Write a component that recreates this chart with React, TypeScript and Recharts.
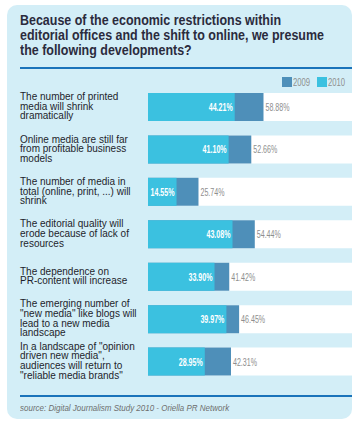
import React from 'react';
import { BarChart, Bar, XAxis, YAxis, LabelList } from 'recharts';

// Survey answers, one entry per row (label lines as printed)
const questions = [
  ['The number of printed', 'media will shrink', 'dramatically'],
  ['Online media are still far', 'from profitable business', 'models'],
  ['The number of media in', 'total (online, print, ...) will', 'shrink'],
  ['The editorial quality will', 'erode because of lack of', 'resources'],
  ['The dependence on', 'PR-content will increase'],
  ['The emerging number of', '"new media" like blogs will', 'lead to a new media', 'landscape'],
  ['In a landscape of "opinion', 'driven new media",', 'audiences will return to', '"reliable media brands"'],
];
const values2009 = [58.88, 52.66, 25.74, 54.44, 41.42, 46.45, 42.31];
const values2010 = [44.21, 41.1, 14.55, 43.08, 33.9, 39.97, 28.95];
const seriesNames = ['2009', '2010'];

const titleLines = [
  'Because of the economic restrictions within',
  'editorial offices and the shift to online, we presume',
  'the following developments?',
];
const sourceText = 'source: Digital Journalism Study 2010 - Oriella PR Network';

const COLOR_2009 = '#4e8fb9';
const COLOR_2010 = '#3bc1e0';
const PANEL = '#d3eef7';
const RULE = '#1a73ba';
const FONT = "'Liberation Sans', Arial, sans-serif";

const data = questions.map((q, i) => ({
  name: q.join(' '),
  v2009: values2009[i],
  v2010: values2010[i],
}));

const fmt = (v: number) => `${v.toFixed(2)}%`;

const CategoryTick = (props: any) => {
  const { y, index } = props;
  const lines = questions[index] || [];
  const lh = 9.6;
  const start = y - ((lines.length - 1) * lh) / 2 - 1;
  return (
    <text x={20} y={start} fontSize={10} fill="#1e1e2c" fontFamily={FONT}>
      {lines.map((l: string, i: number) => (
        <tspan key={i} x={20} y={start + i * lh} dy="0.35em">{l}</tspan>
      ))}
    </text>
  );
};

const InsideLabel = (props: any) => {
  const { x, y, width, height, value } = props;
  const s = fmt(value);
  return (
    <text x={x + width - 2} y={y + height / 2} dy="0.36em" textAnchor="end" fill="#fff" fontSize={11}
      fontWeight="bold" fontFamily={FONT} textLength={s.length * 4} lengthAdjust="spacingAndGlyphs">
      {s}
    </text>
  );
};

const OutsideLabel = (props: any) => {
  const { x, y, width, height, value } = props;
  const s = fmt(value);
  return (
    <text x={x + width + 2} y={y + height / 2} dy="0.36em" textAnchor="start" fill="#8e8e8e" fontSize={11}
      fontFamily={FONT} textLength={s.length * 4} lengthAdjust="spacingAndGlyphs">
      {s}
    </text>
  );
};

export default function App() {
  return (
    <div style={{ position: 'absolute', left: 0, top: 0, width: 362, height: 428, background: '#fff', overflow: 'hidden' }}>
      <div style={{ position: 'absolute', left: 7, top: 5, width: 345, height: 414, background: PANEL, borderRadius: 10 }} />

      {/* title */}
      <div style={{ position: 'absolute', left: 20, top: 13, fontFamily: FONT,
        fontWeight: 'bold', fontSize: 14, lineHeight: '15px', color: '#2b2b3d',
        transform: 'scaleX(0.89)', transformOrigin: 'left top', whiteSpace: 'nowrap' }}>
        {titleLines.map((t) => <div key={t}>{t}</div>)}
      </div>
      <div style={{ position: 'absolute', left: 20, top: 67, width: 332, height: 2, background: RULE }} />

      {/* legend */}
      <div style={{ position: 'absolute', left: 282, top: 77, display: 'flex', alignItems: 'center', fontFamily: FONT }}>
        {seriesNames.map((label, i) => (
          <div key={label} style={{ display: 'flex', alignItems: 'center', marginRight: 4 }}>
            <span style={{ width: 10, height: 10, background: i === 0 ? COLOR_2009 : COLOR_2010, display: 'inline-block' }} />
            <span style={{ fontSize: 11, color: '#8e8e8e', display: 'inline-block', width: 20, marginLeft: 1,
              transform: 'scaleX(0.7)', transformOrigin: 'left center', lineHeight: '10px' }}>{label}</span>
          </div>
        ))}
      </div>

      <div style={{ position: 'absolute', left: 0, top: 0 }}>
        <BarChart width={362} height={428} data={data} layout="vertical" barSize={28} barGap={-28}
          margin={{ top: 86, right: 10, bottom: 45, left: 0 }}>
          <XAxis type="number" hide domain={[0, 104]} />
          <YAxis type="category" dataKey="name" width={148} axisLine={false} tickLine={false} tick={<CategoryTick />} interval={0} />
          <Bar dataKey="v2009" name="2009" fill={COLOR_2009} background={{ fill: '#fff' }} isAnimationActive={false}>
            <LabelList dataKey="v2009" content={<OutsideLabel />} />
          </Bar>
          <Bar dataKey="v2010" name="2010" fill={COLOR_2010} isAnimationActive={false}>
            <LabelList dataKey="v2010" content={<InsideLabel />} />
          </Bar>
        </BarChart>
      </div>

      <div style={{ position: 'absolute', left: 20, top: 395, width: 332, height: 2, background: RULE }} />
      <div style={{ position: 'absolute', left: 20, top: 403, fontFamily: FONT,
        fontStyle: 'italic', fontSize: 8.5, lineHeight: '10px', color: '#6e6e6e', whiteSpace: 'nowrap',
        transform: 'scaleX(0.94)', transformOrigin: 'left top' }}>
        {sourceText}
      </div>
    </div>
  );
}
